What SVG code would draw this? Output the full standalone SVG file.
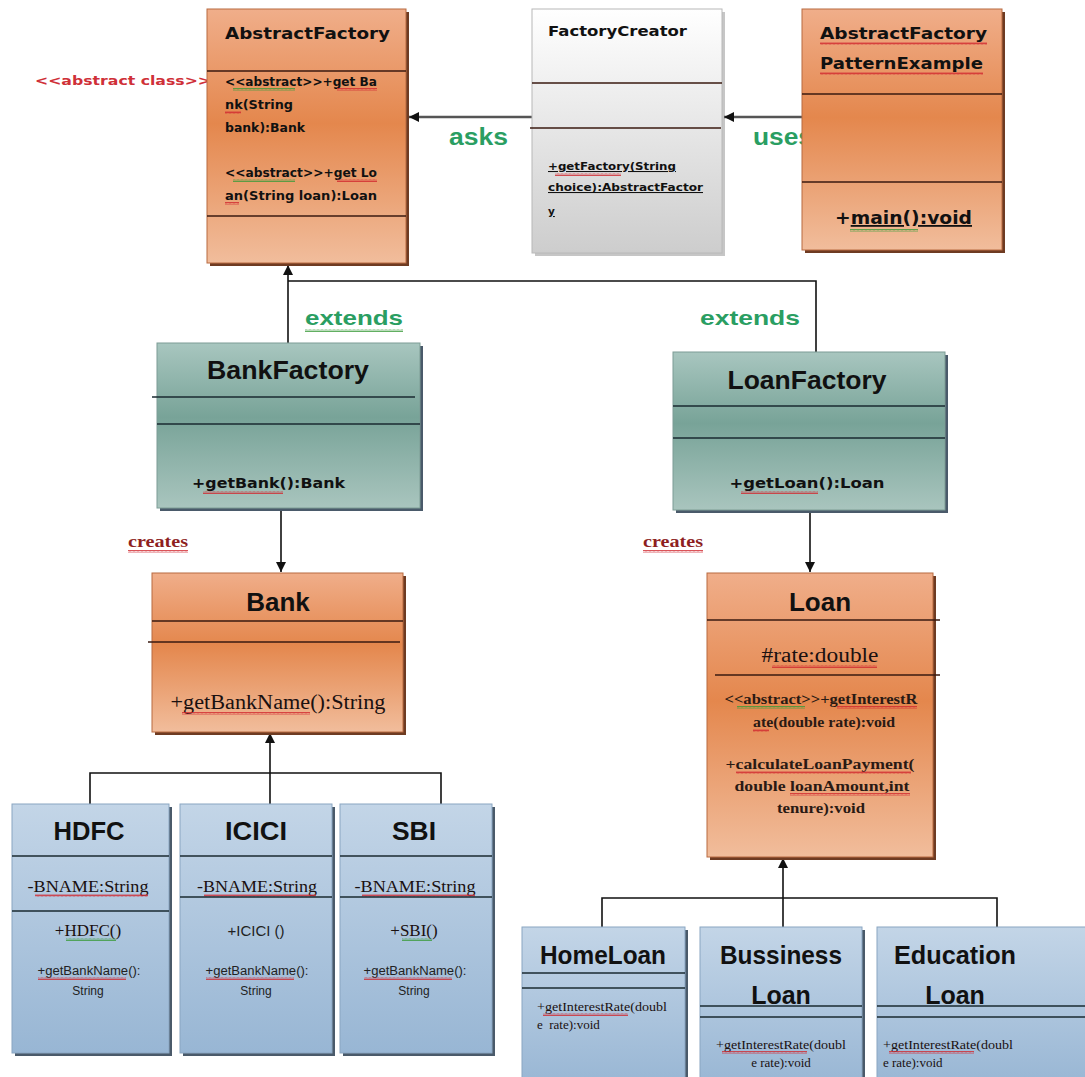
<svg xmlns="http://www.w3.org/2000/svg" width="1085" height="1077" viewBox="0 0 1085 1077">
<defs>
<linearGradient id="gOr" x1="0" y1="0" x2="0" y2="1">
<stop offset="0" stop-color="#f0ae8a"/><stop offset="0.45" stop-color="#e4874d"/><stop offset="1" stop-color="#f1bd9c"/>
</linearGradient>
<linearGradient id="gTe" x1="0" y1="0" x2="0" y2="1">
<stop offset="0" stop-color="#a8c6bf"/><stop offset="0.45" stop-color="#78a398"/><stop offset="1" stop-color="#a9c5be"/>
</linearGradient>
<linearGradient id="gBl" x1="0" y1="0" x2="0" y2="1">
<stop offset="0" stop-color="#c3d5e7"/><stop offset="1" stop-color="#98b6d4"/>
</linearGradient>
<linearGradient id="gWh" x1="0" y1="0" x2="0" y2="1">
<stop offset="0" stop-color="#ffffff"/><stop offset="1" stop-color="#cdcdcd"/>
</linearGradient>
<pattern id="sqR" width="4" height="3" patternUnits="userSpaceOnUse"><path d="M0,2.5 L1,0.5 L2,2.5 L3,0.5 L4,2.5" fill="none" stroke="#d0282f" stroke-width="0.8"/></pattern>
<pattern id="sqG" width="4" height="3" patternUnits="userSpaceOnUse"><path d="M0,2.5 L1,0.5 L2,2.5 L3,0.5 L4,2.5" fill="none" stroke="#3a9a3a" stroke-width="0.8"/></pattern>
<marker id="arr" viewBox="0 0 10 10" refX="10" refY="5" markerWidth="10" markerHeight="10" markerUnits="userSpaceOnUse" orient="auto"><path d="M0,0 L10,5 L0,10 z" fill="#111"/></marker>
</defs>
<style>
.shO{fill:#6e3b22}
.shG{fill:#5c5c5c}
.shB{fill:#4a5a6a}
.bOr{fill:url(#gOr);stroke:#b86a40;stroke-width:1}
.bTe{fill:url(#gTe);stroke:#7d9c95;stroke-width:1}
.bBl{fill:url(#gBl);stroke:#8aa6c2;stroke-width:1}
.bWh{fill:url(#gWh);stroke:#b8b8b8;stroke-width:1}
.dv{stroke:#3a1a10;stroke-width:1.6}
.dk{stroke:#1a2a30;stroke-width:1.6}
.conn{stroke:#111;stroke-width:1.6;fill:none}
.gl{stroke:#555;stroke-width:2.5;fill:none}
.tah{font-family:"DejaVu Sans",Verdana,sans-serif;font-weight:bold;fill:#111}
.ari{font-family:"Liberation Sans",Arial,sans-serif;font-weight:bold;fill:#111}
.ser{font-family:"Liberation Serif","Times New Roman",serif;fill:#1a1010}
.serb{font-family:"Liberation Serif","Times New Roman",serif;font-weight:bold;fill:#2a1a14}
.grn{font-family:"Liberation Sans",Arial,sans-serif;font-weight:bold;fill:#2a9e62}
.red{font-family:"DejaVu Sans",Verdana,sans-serif;font-weight:bold;fill:#cf3038}
.crt{font-family:"Liberation Serif","Times New Roman",serif;font-weight:bold;fill:#8e1f1f}
.sm{font-family:"Liberation Sans",Arial,sans-serif;fill:#222}
.r{fill:url(#sqR)}
.g{fill:url(#sqG)}
</style>

<!-- free labels -->
<text class="red" x="35" y="85" font-size="13" textLength="176" lengthAdjust="spacingAndGlyphs">&lt;&lt;abstract class&gt;&gt;</text>
<text class="grn" x="449" y="145" font-size="23" textLength="59" lengthAdjust="spacingAndGlyphs">asks</text>
<text class="grn" x="753" y="145" font-size="23" textLength="60" lengthAdjust="spacingAndGlyphs">uses</text>
<text class="grn" x="305" y="325" font-size="21" textLength="98" lengthAdjust="spacingAndGlyphs">extends</text>
<rect class="g" x="305" y="329" width="98" height="3"/>
<text class="grn" x="700" y="325" font-size="21" textLength="100" lengthAdjust="spacingAndGlyphs">extends</text>
<text class="crt" x="128" y="547" font-size="17" textLength="60" lengthAdjust="spacingAndGlyphs">creates</text>
<rect class="r" x="128" y="550" width="60" height="3"/>
<text class="crt" x="643" y="547" font-size="17" textLength="60" lengthAdjust="spacingAndGlyphs">creates</text>
<rect class="r" x="643" y="550" width="60" height="3"/>

<!-- connectors -->
<g id="connectors">
<line class="gl" x1="532" y1="117" x2="409" y2="117" marker-end="url(#arr)"/>
<line class="gl" x1="802" y1="117" x2="724" y2="117" marker-end="url(#arr)"/>
<line class="conn" x1="288" y1="343" x2="288" y2="265" marker-end="url(#arr)"/>
<polyline class="conn" points="816,352 816,281 288,281"/>
<line class="conn" x1="281" y1="510" x2="281" y2="572" marker-end="url(#arr)"/>
<line class="conn" x1="810" y1="512" x2="810" y2="572" marker-end="url(#arr)"/>
<line class="conn" x1="270" y1="804" x2="270" y2="733" marker-end="url(#arr)"/>
<polyline class="conn" points="90,804 90,773 441,773 441,804"/>
<line class="conn" x1="783" y1="927" x2="783" y2="858" marker-end="url(#arr)"/>
<polyline class="conn" points="602,927 602,898 997,898 997,927"/>
</g>

<!-- AbstractFactory -->
<g id="AbstractFactory">
<rect class="shO" x="210" y="12" width="199" height="254"/>
<rect class="bOr" x="207" y="9" width="199" height="254"/>
<text class="tah" x="225" y="39" font-size="15.5" textLength="165" lengthAdjust="spacingAndGlyphs">AbstractFactory</text>
<line class="dv" x1="207" y1="71" x2="406" y2="71"/>
<line class="dv" x1="207" y1="216" x2="406" y2="216"/>
<text class="tah" x="225" y="86" font-size="11.5" textLength="152" lengthAdjust="spacingAndGlyphs">&lt;&lt;abstract&gt;&gt;+get Ba</text>
<rect class="g" x="233" y="88" width="62" height="3"/><rect class="r" x="337" y="88" width="40" height="3"/>
<text class="tah" x="225" y="109" font-size="12" textLength="68" lengthAdjust="spacingAndGlyphs">nk(String</text>
<rect class="r" x="225" y="111" width="16" height="3"/>
<text class="tah" x="225" y="132" font-size="12" textLength="80" lengthAdjust="spacingAndGlyphs">bank):Bank</text>
<text class="tah" x="225" y="177" font-size="11.5" textLength="152" lengthAdjust="spacingAndGlyphs">&lt;&lt;abstract&gt;&gt;+get Lo</text>
<rect class="g" x="233" y="179" width="62" height="3"/><rect class="r" x="337" y="179" width="40" height="3"/>
<text class="tah" x="225" y="200" font-size="12" textLength="152" lengthAdjust="spacingAndGlyphs">an(String loan):Loan</text>
<rect class="r" x="225" y="202" width="14" height="3"/>
</g>

<!-- FactoryCreator -->
<g id="FactoryCreator">
<rect class="shG" x="535" y="12" width="190" height="244" opacity="0.35"/>
<rect class="bWh" x="532" y="9" width="190" height="244"/>
<text class="tah" x="548" y="36" font-size="13.5" textLength="139" lengthAdjust="spacingAndGlyphs">FactoryCreator</text>
<line class="dv" x1="532" y1="83" x2="722" y2="83" stroke="#222"/>
<line class="dv" x1="530" y1="128" x2="721" y2="128" stroke="#222"/>
<text class="tah" x="548" y="170" font-size="10.5" text-decoration="underline" textLength="128" lengthAdjust="spacingAndGlyphs">+getFactory(String</text>
<rect class="r" x="555" y="173" width="66" height="3"/>
<text class="tah" x="548" y="191" font-size="10.5" text-decoration="underline" textLength="155" lengthAdjust="spacingAndGlyphs">choice):AbstractFactor</text>
<text class="tah" x="548" y="215" font-size="10.5" text-decoration="underline">y</text>
</g>

<!-- AbstractFactoryPatternExample -->
<g id="AbstractFactoryPatternExample">
<rect class="shO" x="805" y="12" width="200" height="241"/>
<rect class="bOr" x="802" y="9" width="200" height="241"/>
<text class="tah" x="820" y="39" font-size="15.5" textLength="167" lengthAdjust="spacingAndGlyphs">AbstractFactory</text>
<rect class="r" x="820" y="42" width="167" height="3"/>
<text class="tah" x="820" y="69" font-size="15.5" textLength="163" lengthAdjust="spacingAndGlyphs">PatternExample</text>
<rect class="r" x="820" y="72" width="163" height="3"/>
<line class="dv" x1="802" y1="94" x2="1002" y2="94"/>
<line class="dv" x1="802" y1="182" x2="1002" y2="182"/>
<text class="tah" x="835" y="224" font-size="18" textLength="137" lengthAdjust="spacingAndGlyphs">+<tspan text-decoration="underline">main():void</tspan></text>
<rect class="g" x="850" y="229" width="68" height="3"/>
</g>

<!-- BankFactory -->
<g id="BankFactory">
<rect class="shB" x="160" y="346" width="263" height="165"/>
<rect class="bTe" x="157" y="343" width="263" height="165"/>
<text class="ari" x="288" y="379" font-size="26" text-anchor="middle" textLength="162" lengthAdjust="spacingAndGlyphs">BankFactory</text>
<line class="dk" x1="152" y1="397" x2="415" y2="397"/>
<line class="dk" x1="157" y1="424" x2="420" y2="424"/>
<text class="tah" x="192" y="488" font-size="14" textLength="153" lengthAdjust="spacingAndGlyphs">+getBank():Bank</text>
<rect class="r" x="203" y="491" width="80" height="3"/>
</g>

<!-- LoanFactory -->
<g id="LoanFactory">
<rect class="shB" x="676" y="355" width="272" height="158"/>
<rect class="bTe" x="673" y="352" width="272" height="158"/>
<text class="ari" x="807" y="389" font-size="26" text-anchor="middle" textLength="159" lengthAdjust="spacingAndGlyphs">LoanFactory</text>
<line class="dk" x1="673" y1="406" x2="945" y2="406"/>
<line class="dk" x1="673" y1="438" x2="945" y2="438"/>
<text class="tah" x="807" y="488" font-size="14" text-anchor="middle" textLength="155" lengthAdjust="spacingAndGlyphs">+getLoan():Loan</text>
<rect class="r" x="741" y="491" width="77" height="3"/>
</g>

<!-- Bank -->
<g id="Bank">
<rect class="shO" x="155" y="576" width="251" height="159"/>
<rect class="bOr" x="152" y="573" width="251" height="159"/>
<text class="ari" x="278" y="611" font-size="26" text-anchor="middle">Bank</text>
<line class="dv" x1="152" y1="621" x2="403" y2="621"/>
<line class="dv" x1="148" y1="642" x2="400" y2="642"/>
<text class="ser" x="278" y="709" font-size="20" text-anchor="middle" textLength="215" lengthAdjust="spacingAndGlyphs">+getBankName():String</text>
<rect class="r" x="182" y="712" width="128" height="3"/>
</g>

<!-- Loan -->
<g id="Loan">
<rect class="shO" x="710" y="576" width="226" height="284"/>
<rect class="bOr" x="707" y="573" width="226" height="284"/>
<text class="ari" x="820" y="611" font-size="26" text-anchor="middle">Loan</text>
<line class="dv" x1="707" y1="620" x2="940" y2="620"/>
<text class="ser" x="820" y="662" font-size="20" text-anchor="middle" textLength="117" lengthAdjust="spacingAndGlyphs">#rate:double</text>
<rect class="r" x="772" y="665" width="105" height="3"/>
<line class="dv" x1="715" y1="675" x2="940" y2="675"/>
<text class="serb" x="821" y="704" font-size="14" text-anchor="middle" textLength="193" lengthAdjust="spacingAndGlyphs">&lt;&lt;abstract&gt;&gt;+getInterestR</text>
<rect class="g" x="737" y="706" width="68" height="3"/><rect class="r" x="837" y="706" width="80" height="3"/>
<text class="serb" x="824" y="727" font-size="14" text-anchor="middle" textLength="142" lengthAdjust="spacingAndGlyphs">ate(double rate):void</text>
<rect class="r" x="753" y="729" width="16" height="3"/>
<text class="serb" x="820" y="769" font-size="14" text-anchor="middle" textLength="189" lengthAdjust="spacingAndGlyphs">+calculateLoanPayment(</text>
<rect class="r" x="736" y="771" width="175" height="3"/>
<text class="serb" x="822" y="791" font-size="14" text-anchor="middle" textLength="175" lengthAdjust="spacingAndGlyphs">double loanAmount,int</text>
<rect class="r" x="790" y="793" width="120" height="3"/>
<text class="serb" x="821" y="813" font-size="14" text-anchor="middle" textLength="88" lengthAdjust="spacingAndGlyphs">tenure):void</text>
</g>

<!-- HDFC -->
<g id="HDFC">
<rect class="shB" x="15" y="807" width="157" height="249"/>
<rect class="bBl" x="12" y="804" width="157" height="249"/>
<text class="ari" x="89" y="840" font-size="25" text-anchor="middle" textLength="71" lengthAdjust="spacingAndGlyphs">HDFC</text>
<line class="dk" x1="12" y1="856" x2="169" y2="856"/>
<text class="ser" x="88" y="892" font-size="17" text-anchor="middle" textLength="121" lengthAdjust="spacingAndGlyphs">-BNAME:String</text>
<rect class="r" x="35" y="894" width="113" height="3"/>
<line class="dk" x1="12" y1="911" x2="169" y2="911"/>
<text class="ser" x="88" y="936" font-size="17" text-anchor="middle">+HDFC()</text>
<rect class="g" x="66" y="938" width="50" height="3"/>
<text class="sm" x="89" y="975" font-size="12" text-anchor="middle" textLength="103" lengthAdjust="spacingAndGlyphs">+getBankName():</text>
<rect class="r" x="38" y="977" width="88" height="3"/>
<text class="sm" x="88" y="995" font-size="12" text-anchor="middle">String</text>
</g>

<!-- ICICI -->
<g id="ICICI">
<rect class="shB" x="183" y="807" width="152" height="249"/>
<rect class="bBl" x="180" y="804" width="152" height="249"/>
<text class="ari" x="256" y="840" font-size="25" text-anchor="middle" textLength="62" lengthAdjust="spacingAndGlyphs">ICICI</text>
<line class="dk" x1="180" y1="856" x2="332" y2="856"/>
<text class="ser" x="257" y="892" font-size="17" text-anchor="middle" textLength="120" lengthAdjust="spacingAndGlyphs">-BNAME:String</text>
<rect class="r" x="204" y="894" width="112" height="3"/>
<line class="dk" x1="180" y1="897" x2="332" y2="897"/>
<text class="sm" x="256" y="936" font-size="15" text-anchor="middle">+ICICI ()</text>
<text class="sm" x="257" y="975" font-size="12" text-anchor="middle" textLength="103" lengthAdjust="spacingAndGlyphs">+getBankName():</text>
<rect class="r" x="206" y="977" width="88" height="3"/>
<text class="sm" x="256" y="995" font-size="12" text-anchor="middle">String</text>
</g>

<!-- SBI -->
<g id="SBI">
<rect class="shB" x="343" y="807" width="152" height="249"/>
<rect class="bBl" x="340" y="804" width="152" height="249"/>
<text class="ari" x="414" y="840" font-size="25" text-anchor="middle" textLength="44" lengthAdjust="spacingAndGlyphs">SBI</text>
<line class="dk" x1="340" y1="856" x2="492" y2="856"/>
<text class="ser" x="415" y="892" font-size="17" text-anchor="middle" textLength="121" lengthAdjust="spacingAndGlyphs">-BNAME:String</text>
<rect class="r" x="362" y="894" width="113" height="3"/>
<line class="dk" x1="340" y1="897" x2="492" y2="897"/>
<text class="ser" x="414" y="936" font-size="17" text-anchor="middle">+SBI()</text>
<rect class="g" x="402" y="938" width="30" height="3"/>
<text class="sm" x="415" y="975" font-size="12" text-anchor="middle" textLength="103" lengthAdjust="spacingAndGlyphs">+getBankName():</text>
<rect class="r" x="364" y="977" width="88" height="3"/>
<text class="sm" x="414" y="995" font-size="12" text-anchor="middle">String</text>
</g>

<!-- HomeLoan -->
<g id="HomeLoan">
<rect class="shB" x="525" y="930" width="163" height="160"/>
<rect class="bBl" x="522" y="927" width="163" height="160"/>
<text class="ari" x="603" y="964" font-size="25" text-anchor="middle" textLength="126" lengthAdjust="spacingAndGlyphs">HomeLoan</text>
<line class="dk" x1="522" y1="973" x2="685" y2="973"/>
<line class="dk" x1="522" y1="988" x2="685" y2="988"/>
<text class="ser" x="537" y="1011" font-size="13" textLength="130" lengthAdjust="spacingAndGlyphs">+getInterestRate(doubl</text>
<rect class="r" x="543" y="1013" width="85" height="3"/>
<text class="ser" x="537" y="1029" font-size="13" xml:space="preserve">e  rate):void</text>
</g>

<!-- BussinessLoan -->
<g id="BussinessLoan">
<rect class="shB" x="703" y="930" width="162" height="160"/>
<rect class="bBl" x="700" y="927" width="162" height="160"/>
<text class="ari" x="781" y="964" font-size="25" text-anchor="middle" textLength="122" lengthAdjust="spacingAndGlyphs">Bussiness</text>
<text class="ari" x="781" y="1004" font-size="25" text-anchor="middle">Loan</text>
<line class="dk" x1="700" y1="1006" x2="862" y2="1006"/>
<line class="dk" x1="700" y1="1017" x2="862" y2="1017"/>
<text class="ser" x="781" y="1049" font-size="13" text-anchor="middle" textLength="130" lengthAdjust="spacingAndGlyphs">+getInterestRate(doubl</text>
<rect class="r" x="722" y="1051" width="85" height="3"/>
<text class="ser" x="781" y="1067" font-size="13" text-anchor="middle">e rate):void</text>
</g>

<!-- EducationLoan -->
<g id="EducationLoan">
<rect class="shB" x="880" y="930" width="215" height="160"/>
<rect class="bBl" x="877" y="927" width="215" height="160"/>
<text class="ari" x="955" y="964" font-size="25" text-anchor="middle" textLength="122" lengthAdjust="spacingAndGlyphs">Education</text>
<text class="ari" x="955" y="1004" font-size="25" text-anchor="middle">Loan</text>
<line class="dk" x1="877" y1="1006" x2="1085" y2="1006"/>
<line class="dk" x1="877" y1="1017" x2="1085" y2="1017"/>
<text class="ser" x="883" y="1049" font-size="13" textLength="130" lengthAdjust="spacingAndGlyphs">+getInterestRate(doubl</text>
<rect class="r" x="889" y="1051" width="85" height="3"/>
<text class="ser" x="883" y="1067" font-size="13">e rate):void</text>
</g>
</svg>
